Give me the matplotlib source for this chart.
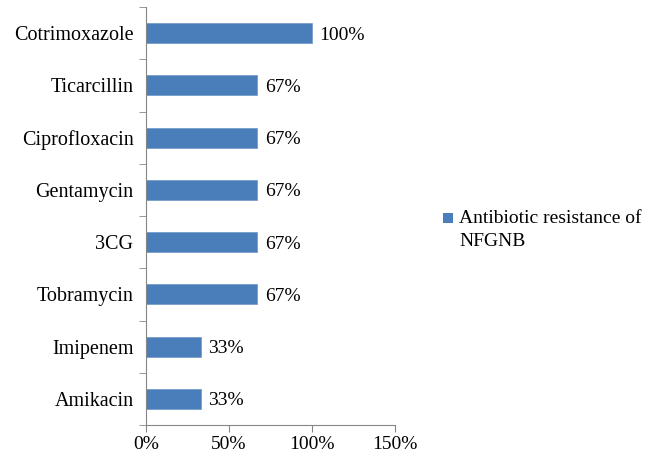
import matplotlib.pyplot as plt
import numpy as np
from matplotlib.patches import Rectangle

drugs = ["Amikacin", "Imipenem", "Tobramycin", "3CG", "Gentamycin",
         "Ciprofloxacin", "Ticarcillin", "Cotrimoxazole"]
resistance = [33, 33, 67, 67, 67, 67, 67, 100]
labels = ["33%", "33%", "67%", "67%", "67%", "67%", "67%", "100%"]
legend_label = "Antibiotic resistance of\nNFGNB"

plt.rcParams['font.family'] = ['Liberation Serif', 'DejaVu Serif']
plt.rcParams['font.size'] = 14

bar_color = "#4a7ebb"
axis_gray = "#868686"
W, H = 657, 462

fig = plt.figure(figsize=(6.57, 4.62), dpi=100)
ax = fig.add_axes([146/W, 1 - 425/H, (395 - 146)/W, (425 - 7)/H])

y = np.arange(len(drugs))
ax.barh(y, resistance, height=0.38, color=bar_color, edgecolor="#6d96c9", linewidth=0.5)

for yi, v, lab in zip(y, resistance, labels):
    ax.text(v + 4.5, yi - 0.04, lab, va="center", ha="left", fontsize=14)

ax.set_xlim(0, 150)
ax.set_ylim(-0.5, len(drugs) - 0.5)
ax.set_xticks([0, 50, 100, 150])
ax.set_xticklabels(["0%", "50%", "100%", "150%"])
ax.set_yticks(y)
ax.set_yticklabels(drugs, fontsize=14.5)
ax.set_yticks(np.arange(-0.5, len(drugs)), minor=True)
ax.tick_params(axis="y", which="major", length=0, pad=9)
ax.tick_params(axis="y", which="minor", length=5, color=axis_gray, direction="out")
ax.tick_params(axis="x", length=5, color=axis_gray, direction="out", pad=3)

for s in ["top", "right"]:
    ax.spines[s].set_visible(False)
for s in ["left", "bottom"]:
    ax.spines[s].set_color(axis_gray)

# legend drawn by hand: square next to first line of a two-line label
fig.patches.append(Rectangle((443/W, 1 - 223/H), 10/W, 10/H, transform=fig.transFigure,
                             facecolor=bar_color, edgecolor="none"))
fig.text(459/W, 1 - 210/H, legend_label, ha="left", va="top", fontsize=14, linespacing=1.45)

plt.savefig("out.png", dpi=100)
